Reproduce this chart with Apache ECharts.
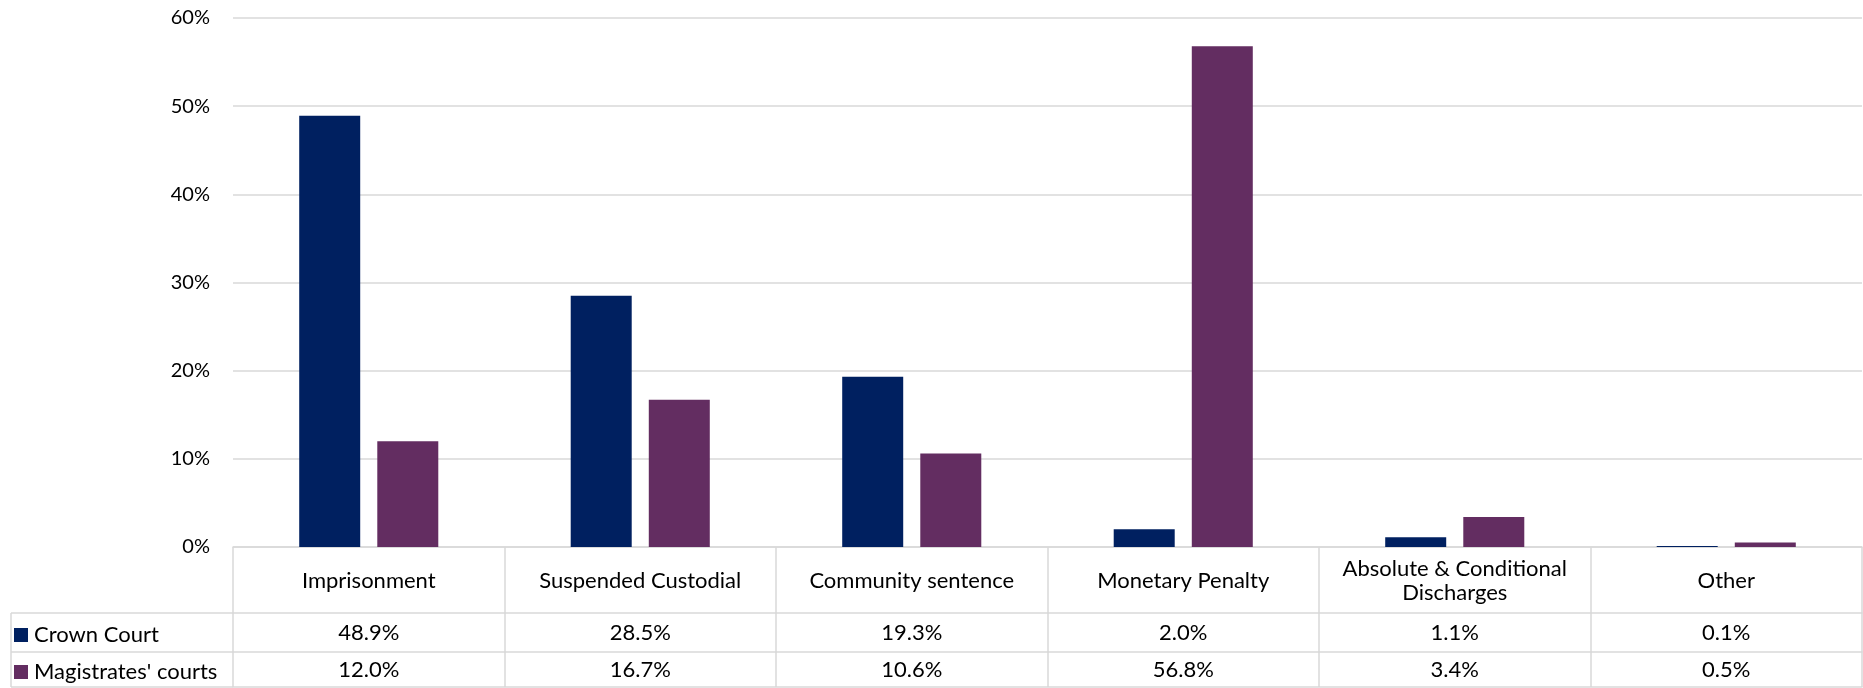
<!DOCTYPE html>
<html>
<head>
<meta charset="utf-8">
<script src="https://cdn.jsdelivr.net/npm/echarts@6/dist/echarts.min.js"></script>
<style>html,body{margin:0;padding:0;background:#fff}#c{width:1863px;height:688px}</style>
</head>
<body>
<div id="c"></div>
<script>
const categories = ['Imprisonment', 'Suspended Custodial', 'Community sentence', 'Monetary Penalty', 'Absolute & Conditional\nDischarges', 'Other'];
const seriesNames = ['Crown Court', "Magistrates' courts"];
const crownCourt = [48.9, 28.5, 19.3, 2.0, 1.1, 0.1];
const magistrates = [12.0, 16.7, 10.6, 56.8, 3.4, 0.5];
const yTicks = [0, 10, 20, 30, 40, 50, 60];

const FONT = 'Lato';
const GRID_COL = '#D9D9D9';
const colors = ['#002060', '#632D61'];
const TFS = 22;
const fmt = v => v.toFixed(1) + '%';

const chart = echarts.init(document.getElementById('c'));
const gridLeft = 233, gridBottom = 141, gridTop = 18;
const H = 688;
const base = H - gridBottom; // y of 0%
const rowLines = [base + 66, base + 105, base + 140];

const lineStyle = { color: GRID_COL, width: 1.5 };
const graphics = [];
rowLines.forEach(y => graphics.push({ type: 'line', shape: { x1: 11, y1: y, x2: gridLeft, y2: y }, style: { stroke: GRID_COL, lineWidth: 1.5 } }));
graphics.push({ type: 'line', shape: { x1: 11, y1: rowLines[0], x2: 11, y2: rowLines[2] }, style: { stroke: GRID_COL, lineWidth: 1.5 } });

const legendText = { fontFamily: FONT, fontSize: TFS, color: '#000', padding: [0, 0, 0, 1] };
chart.setOption({
  animation: false,
  textStyle: { fontFamily: FONT },
  grid: { left: gridLeft, right: 1, top: gridTop, bottom: gridBottom, containLabel: false },
  legend: [
    { data: [seriesNames[0]], left: 14, top: 624, orient: 'vertical', icon: 'rect', itemWidth: 14, itemHeight: 14, padding: 0, textStyle: legendText },
    { data: [seriesNames[1]], left: 14, top: 661, orient: 'vertical', icon: 'rect', itemWidth: 14, itemHeight: 14, padding: 0, textStyle: legendText }
  ],
  xAxis: [
    { type: 'category', data: categories, position: 'bottom', offset: 0,
      axisLine: { show: true, lineStyle: lineStyle },
      axisTick: { show: true, interval: 0, length: 140, lineStyle: lineStyle },
      axisLabel: { interval: 0, margin: 34, verticalAlign: 'middle', fontFamily: FONT, fontSize: TFS, color: '#000', lineHeight: 24 } },
    { type: 'category', data: crownCourt.map(fmt), position: 'bottom', offset: 66,
      axisLine: { show: true, lineStyle: lineStyle }, axisTick: { show: false },
      axisLabel: { interval: 0, margin: 20, verticalAlign: 'middle', fontFamily: FONT, fontSize: TFS, color: '#000' } },
    { type: 'category', data: magistrates.map(fmt), position: 'bottom', offset: 105,
      axisLine: { show: true, lineStyle: lineStyle }, axisTick: { show: false },
      axisLabel: { interval: 0, margin: 18, verticalAlign: 'middle', fontFamily: FONT, fontSize: TFS, color: '#000' } },
    { type: 'category', data: categories, position: 'bottom', offset: 140,
      axisLine: { show: true, lineStyle: lineStyle }, axisTick: { show: false }, axisLabel: { show: false } }
  ],
  yAxis: {
    type: 'value', min: yTicks[0], max: yTicks[yTicks.length - 1], interval: 10,
    axisLine: { show: false }, axisTick: { show: false },
    splitLine: { show: true, lineStyle: lineStyle },
    axisLabel: { formatter: '{value}%', margin: 23, fontFamily: FONT, fontSize: 20, color: '#000' }
  },
  series: [
    { name: seriesNames[0], type: 'bar', data: crownCourt, xAxisIndex: 0, barWidth: 61, barGap: '28%', itemStyle: { color: colors[0] } },
    { name: seriesNames[1], type: 'bar', data: magistrates, xAxisIndex: 0, barWidth: 61, barGap: '28%', itemStyle: { color: colors[1] } }
  ],
  graphic: graphics
});
</script>
</body>
</html>
